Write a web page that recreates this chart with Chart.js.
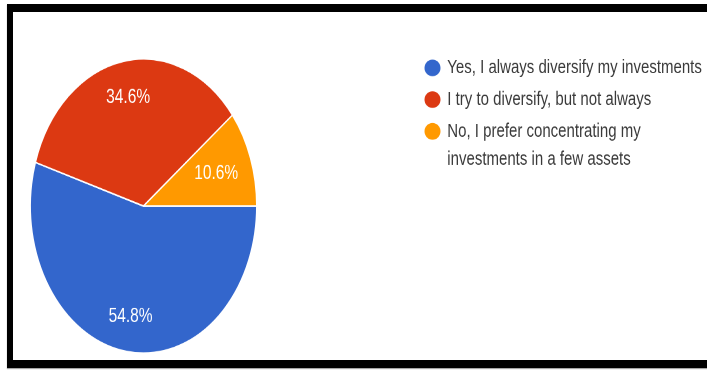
<!DOCTYPE html>
<html>
<head>
<meta charset="utf-8">
<script src="https://cdn.jsdelivr.net/npm/chart.js@4/dist/chart.umd.min.js"></script>
<style>
  html, body { margin: 0; padding: 0; background: #fff; overflow: hidden; }
  body { width: 707px; height: 370px; position: relative; }
  .frame {
    position: absolute; left: 7px; top: 4px;
    width: 720px; height: 347.5px;
    border-top: 8.5px solid #000; border-left: 6px solid #000; border-bottom: 8px solid #000;
    box-shadow: 0 1px 1px rgba(0,0,0,0.35);
    background: #fff;
  }
  .stretch {
    position: absolute; left: 0; top: 0;
    transform: scaleY(1.3); transform-origin: 0 0;
  }
</style>
</head>
<body>
<div class="frame">
  <div class="stretch"><canvas id="pie" width="694" height="267"></canvas></div>
</div>
<script>
// answer options (multi-line ones wrap in the legend)
const answers = [
  ['Yes, I always diversify my investments'],
  ['I try to diversify, but not always'],
  ['No, I prefer concentrating my', 'investments in a few assets']
];
const shares = [54.8, 34.6, 10.6];
const sliceColors = ['#3366cc', '#dc3912', '#ff9900'];

// percent text inside each slice
const sliceText = {
  id: 'sliceText',
  afterDatasetsDraw(chart, args, opts) {
    const ctx = chart.ctx;
    const meta = chart.getDatasetMeta(0);
    ctx.save();
    ctx.fillStyle = '#fff';
    ctx.font = '15.5px "Liberation Sans", Arial, sans-serif';
    ctx.textAlign = 'center';
    ctx.textBaseline = 'middle';
    meta.data.forEach((arc, i) => {
      const p = arc.getProps(['x', 'y', 'startAngle', 'endAngle', 'outerRadius'], true);
      const mid = (p.startAngle + p.endAngle) / 2;
      const r = p.outerRadius * opts.radius[i];
      ctx.fillText(shares[i].toFixed(1) + '%', p.x + Math.cos(mid) * r, p.y + Math.sin(mid) * r);
    });
    ctx.restore();
  }
};

// legend on the right, dot + wrapped text
const sideLegend = {
  id: 'sideLegend',
  afterDraw(chart, args, opts) {
    const ctx = chart.ctx;
    const labels = chart.data.labels;
    const colors = chart.data.datasets[0].backgroundColor;
    ctx.save();
    ctx.font = '15px "Liberation Sans", Arial, sans-serif';
    ctx.textBaseline = 'middle';
    ctx.textAlign = 'left';
    let y = opts.top;
    labels.forEach((lines, i) => {
      ctx.fillStyle = colors[i];
      ctx.beginPath();
      ctx.ellipse(opts.dotX, y, 8, 6.4, 0, 0, Math.PI * 2);
      ctx.fill();
      ctx.fillStyle = '#3a3a3a';
      lines.forEach((line, j) => {
        ctx.fillText(line, opts.textX, y + j * opts.lineGap);
      });
      y += opts.itemGap + (lines.length - 1) * opts.lineGap;
    });
    ctx.restore();
  }
};

new Chart(document.getElementById('pie'), {
  type: 'pie',
  data: {
    labels: answers,
    datasets: [{
      data: shares,
      backgroundColor: sliceColors,
      borderColor: '#fff',
      borderWidth: 1.2
    }]
  },
  options: {
    responsive: false,
    devicePixelRatio: 2,
    animation: false,
    rotation: 90,
    layout: { padding: { left: 16.5, right: 449.5, top: 35.5, bottom: 4 } },
    plugins: {
      legend: { display: false },
      tooltip: { enabled: false },
      sliceText: { radius: [0.76, 0.75, 0.68] },
      sideLegend: { dotX: 419.5, textX: 434.3, top: 43, itemGap: 24.4, lineGap: 21.8 }
    }
  },
  plugins: [sliceText, sideLegend]
});
</script>
</body>
</html>
